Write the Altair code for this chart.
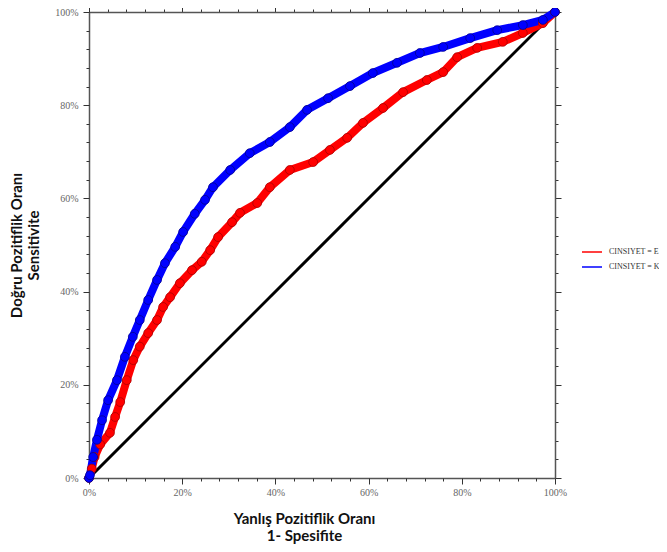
import altair as alt
import pandas as pd

# ROC curve for CINSIYET = E (red)
e_fpr = [0.0, 0.006, 0.012, 0.024, 0.045, 0.056, 0.067, 0.081, 0.095, 0.109, 0.127, 0.146,
         0.159, 0.174, 0.195, 0.221, 0.242, 0.260, 0.277, 0.307, 0.324, 0.361, 0.388, 0.431,
         0.481, 0.517, 0.554, 0.588, 0.631, 0.674, 0.725, 0.760, 0.790, 0.833, 0.888, 0.931,
         0.974, 1.0]
e_tpr = [0.0, 0.020, 0.045, 0.072, 0.097, 0.131, 0.163, 0.210, 0.253, 0.282, 0.311, 0.339,
         0.367, 0.388, 0.418, 0.446, 0.464, 0.489, 0.517, 0.549, 0.569, 0.590, 0.624, 0.661,
         0.678, 0.704, 0.730, 0.762, 0.794, 0.828, 0.854, 0.871, 0.903, 0.923, 0.936, 0.955,
         0.976, 1.0]

# ROC curve for CINSIYET = K (blue)
k_fpr = [0.0, 0.002, 0.009, 0.017, 0.028, 0.041, 0.060, 0.077, 0.094, 0.109, 0.127, 0.146,
         0.163, 0.185, 0.202, 0.227, 0.249, 0.266, 0.303, 0.345, 0.388, 0.431, 0.468, 0.513,
         0.560, 0.609, 0.661, 0.710, 0.760, 0.818, 0.876, 0.931, 0.974, 1.0]
k_tpr = [0.0, 0.006, 0.045, 0.082, 0.124, 0.167, 0.210, 0.260, 0.303, 0.339, 0.382, 0.425,
         0.461, 0.496, 0.528, 0.567, 0.597, 0.624, 0.661, 0.697, 0.721, 0.753, 0.790, 0.815,
         0.841, 0.869, 0.891, 0.912, 0.925, 0.944, 0.961, 0.972, 0.983, 1.0]

group_labels = ["CINSIYET = E", "CINSIYET = K"]
line_colors = ["#ff0000", "#0000ff"]
edge_colors = ["#a80000", "#00008c"]

diag_x = [0.0, 1.0]
diag_y = [0.0, 1.0]

major_values = [0.0, 0.2, 0.4, 0.6, 0.8, 1.0]
tick_values = [0.0, 0.04, 0.08, 0.12, 0.16, 0.2, 0.24, 0.28, 0.32, 0.36, 0.4, 0.44, 0.48,
               0.52, 0.56, 0.6, 0.64, 0.68, 0.72, 0.76, 0.8, 0.84, 0.88, 0.92, 0.96, 1.0]

rows = []
for lab, xs, ys in [(group_labels[0], e_fpr, e_tpr), (group_labels[1], k_fpr, k_tpr)]:
    for i, (a, b) in enumerate(zip(xs, ys)):
        rows.append({"fpr": a, "tpr": b, "grp": lab, "ord": i})
df = pd.DataFrame(rows)
diag = pd.DataFrame({"fpr": diag_x, "tpr": diag_y})

MAJOR = "abs(datum.value*5 - round(datum.value*5)) < 0.001"
tick_size = {"condition": {"test": MAJOR, "value": 6}, "value": 3}

frame = dict(grid=False, domainColor="#555555", domainWidth=1.5,
             tickColor="#333333", tickWidth=1)
label_style = dict(labelFont="Liberation Serif", labelFontSize=10, labelColor="#666666",
                   labelOverlap=False, labelFlush=False, labelBound=False, format=".0%")
title_style = dict(titleFont="Lato", titleFontSize=15, titleFontWeight="bold",
                   titleColor="#111111", titleLineHeight=17, titleBaseline="middle",
                   titleAlign="center")

# major ticks + labels (bottom / left)
x_bottom = alt.Axis(orient="bottom", values=major_values, tickSize=6, labelPadding=3,
                    title=["Yanlış Pozitiflik Oranı", "1- Spesifite"],
                    titleX=215, titleY=40, **title_style, **label_style, **frame)
y_left = alt.Axis(orient="left", values=major_values, tickSize=6, labelPadding=5,
                  title=["Doğru Pozitiflik Oranı", "Sensitivite"],
                  titleX=-73, titleY=233, titleAngle=270, **title_style, **label_style, **frame)
# frame on top / right with minor+major ticks
x_top = alt.Axis(orient="top", values=tick_values, tickSize=tick_size, labels=False,
                 title=None, **frame)
y_right = alt.Axis(orient="right", values=tick_values, tickSize=tick_size, labels=False,
                   title=None, **frame)
# minor ticks on bottom / left (no domain line)
x_minor = alt.Axis(orient="bottom", values=tick_values, tickSize=3, labels=False,
                   title=None, domain=False, grid=False, tickColor="#333333", tickWidth=1)
y_minor = alt.Axis(orient="left", values=tick_values, tickSize=3, labels=False,
                   title=None, domain=False, grid=False, tickColor="#333333", tickWidth=1)


def sc():
    return alt.Scale(domain=[0, 1], nice=False)


diag_layer = alt.Chart(diag).mark_line(color="black", strokeWidth=3).encode(
    x=alt.X("fpr:Q", scale=sc(), axis=x_top),
    y=alt.Y("tpr:Q", scale=sc(), axis=y_right),
)

line_layer = alt.Chart(df).mark_line(strokeWidth=8, strokeCap="round", strokeJoin="round").encode(
    x=alt.X("fpr:Q", scale=sc(), axis=x_bottom),
    y=alt.Y("tpr:Q", scale=sc(), axis=y_left),
    color=alt.Color("grp:N", scale=alt.Scale(domain=group_labels, range=line_colors),
                    legend=alt.Legend(title=None, orient="none", legendX=492, legendY=229,
                                      symbolType="stroke", symbolSize=400,
                                      symbolStrokeWidth=1.5, labelFont="Liberation Serif",
                                      labelFontSize=8, labelColor="#333333", labelOffset=6,
                                      labelLimit=0, rowPadding=-2, padding=0)),
    order="ord:Q",
)

pts_layer = alt.Chart(df).mark_point(shape="circle", filled=True, size=78, opacity=1,
                                     strokeWidth=0.8).encode(
    x=alt.X("fpr:Q", scale=sc(), axis=x_minor),
    y=alt.Y("tpr:Q", scale=sc(), axis=y_minor),
    fill=alt.Fill("grp:N", scale=alt.Scale(domain=group_labels, range=line_colors), legend=None),
    stroke=alt.Stroke("grp:N", scale=alt.Scale(domain=group_labels, range=edge_colors), legend=None),
)

chart = alt.layer(diag_layer, line_layer, pts_layer).resolve_scale(
    x="independent", y="independent"
).properties(
    width=466, height=466,
    autosize=alt.AutoSizeParams(type="none"),
    padding={"left": 81, "top": 4, "right": 104, "bottom": 66},
).configure_view(stroke=None).configure(background="white")

chart.save("out.html", embed_options={"renderer": "svg", "actions": False})
